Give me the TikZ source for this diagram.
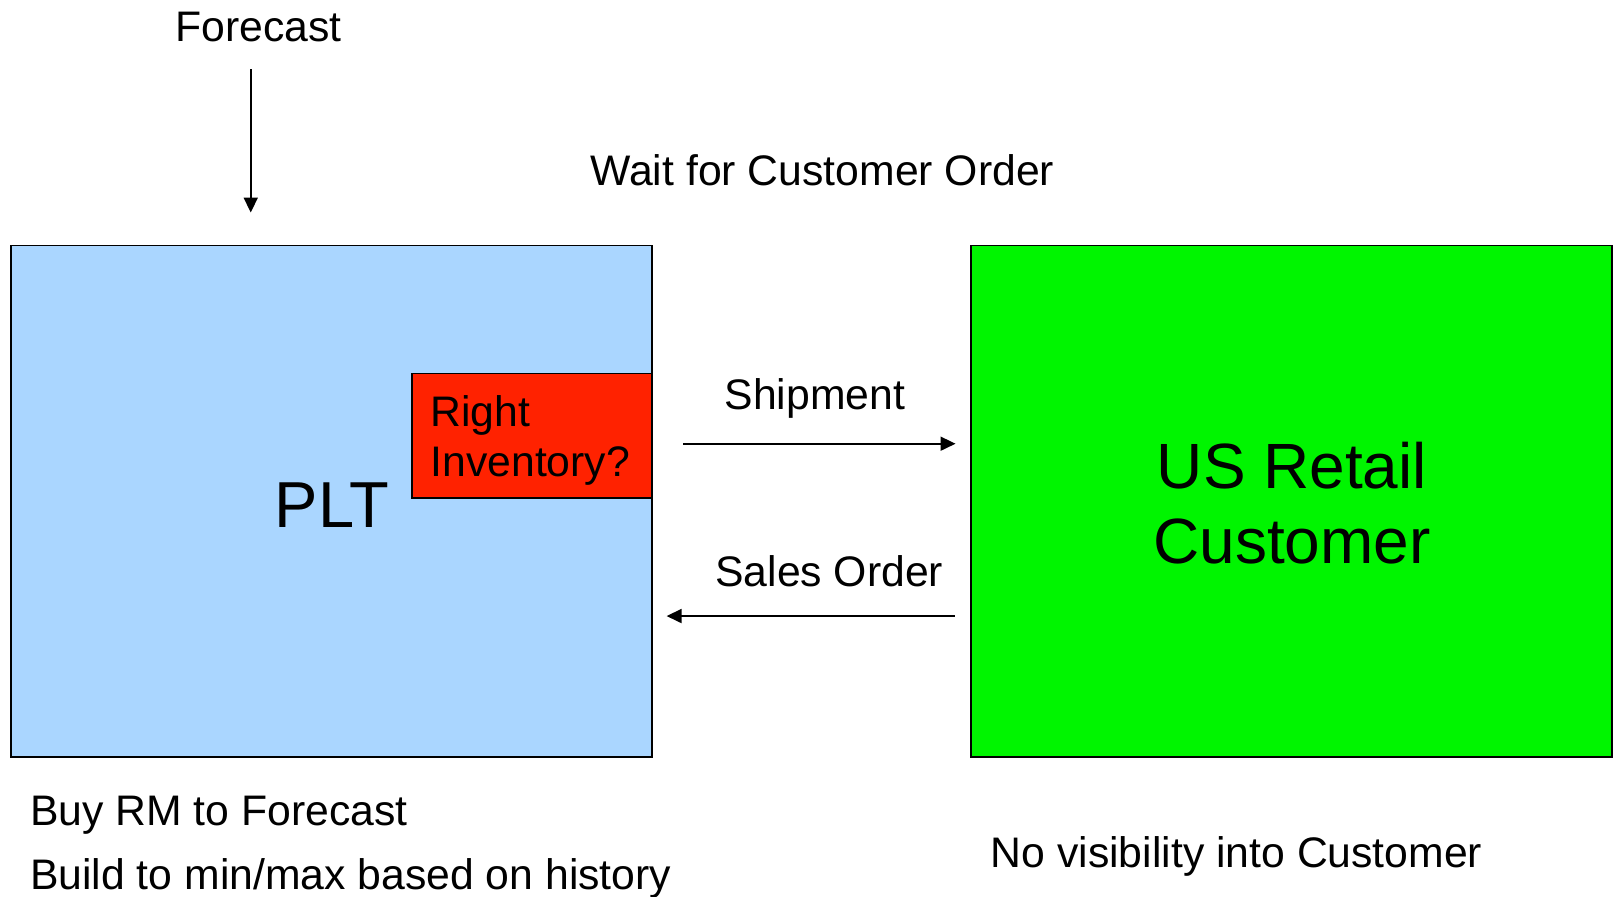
\documentclass[tikz,border=0pt]{standalone}
\usepackage{fontspec}
\setmainfont{Liberation Sans}
\usetikzlibrary{arrows.meta}

\definecolor{pltblue}{RGB}{170,214,255}
\definecolor{invred}{RGB}{255,34,0}
\definecolor{custgreen}{RGB}{0,245,0}

\tikzset{
  panel/.style={draw=black, line width=1.8pt, inner sep=0pt, anchor=north west},
  lbl/.style={inner sep=0pt, font=\fontsize{41.4}{49}\selectfont},
  flow/.style={line width=1.8pt, -{Triangle[length=14.5pt,width=13.5pt]}}
}

\begin{document}
\begin{tikzpicture}[x=1pt, y=-1pt]
\useasboundingbox (0,0) rectangle (1568,869);

% plant and customer panels
\node[panel, fill=pltblue, minimum width=621pt, minimum height=496pt] (plt) at (10,237) {};
\node[panel, fill=custgreen, minimum width=621pt, minimum height=496pt] (cust) at (940,237) {};
\node[panel, fill=invred, minimum width=233pt, minimum height=121pt] (inv) at (398,361) {};

% panel texts
\node[inner sep=0pt, anchor=base west, font=\fontsize{63}{72}\selectfont] (pltlbl) at (266,511) {PLT};
\node[inner sep=0pt, anchor=center, align=center, font=\fontsize{62}{72}\selectfont] (custlbl) at (1252,487.5) {US Retail\\Customer};
\node[lbl, anchor=west, align=left] (invlbl) at (417,427) {Right\\Inventory?};

% free texts
\node[lbl, anchor=base west] (fc) at (170,40) {Forecast};
\node[lbl, anchor=base west] (wait) at (572,180) {Wait for Customer Order};
\node[lbl, anchor=base west] (ship) at (702,397) {Shipment};
\node[lbl, anchor=base west] (so) at (693,568) {Sales Order};
\node[lbl, anchor=west, align=left, font=\fontsize{41.4}{62}\selectfont] (notes) at (29,821) {Buy RM to Forecast\\Build to min/max based on history};
\node[lbl, anchor=base west] (novis) at (960,841) {No visibility into Customer};

% connector end points
\coordinate (fcA) at (243,67);
\coordinate (fcB) at (243,206);
\coordinate (shA) at (662,430);
\coordinate (shB) at (926,430);
\coordinate (soA) at (925,597);
\coordinate (soB) at (646,597);

% flows
\draw[flow] (fcA) -- (fcB);
\draw[flow] (shA) -- (shB);
\draw[flow] (soA) -- (soB);
\end{tikzpicture}
\end{document}
